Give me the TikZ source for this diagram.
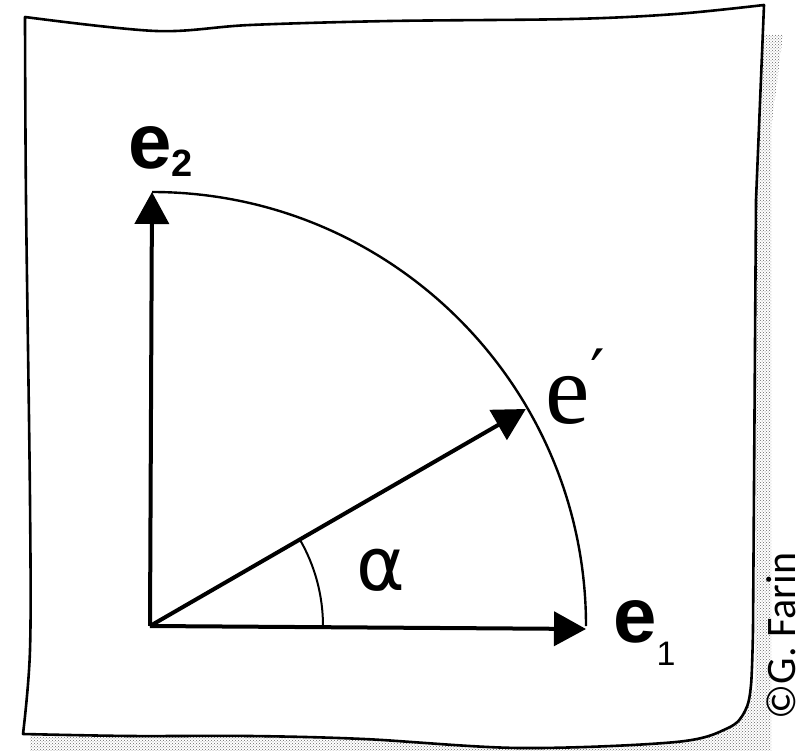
\documentclass[tikz,border=0pt]{standalone}
\usepackage{fontspec}
\setmainfont{Liberation Sans}
\newfontfamily\serifl{Liberation Serif}
\newfontfamily\dejav{DejaVu Sans}
\newfontfamily\carl{Carlito}
\usetikzlibrary{arrows.meta,patterns,calc}
\tikzset{
  framepath/.style={draw=black, line width=2.6pt, fill=white, line join=round},
  shadowfill/.style={pattern=crosshatch dots, pattern color=black!60, draw=none},
  vecarrow/.style={line width=4pt, -{Triangle[length=32pt,width=34pt]}},
  circarc/.style={line width=2.4pt},
  anglearc/.style={line width=2pt},
  labelsans/.style={inner sep=0pt, font=\bfseries\fontsize{78}{78}\selectfont},
}
\begin{document}
\begin{tikzpicture}[x=1pt,y=-1pt]
\useasboundingbox (0,0) rectangle (811,751);
% shadow
\path[shadowfill] (757,35) -- (783,35) -- (771,130) -- (771,751) -- (30,751) -- (30,734) -- (755,690) -- cycle;
% frame (paper)
\path[framepath]
  plot[smooth, tension=0.55] coordinates {(25,17) (156,31) (250,25) (390,21) (572,19) (676,14) (764,5)}
  -- (756,200) -- (753,630)
  -- plot[smooth, tension=0.55] coordinates {(753,630) (751,685) (745,711) (728,728) (676,742) (520,748) (364,739) (250,736) (130,736) (23,734)}
  -- plot[smooth, tension=0.55] coordinates {(23,734) (30,650) (30,500) (26,200) (25,17)}
  -- cycle;
% geometry
\coordinate (O) at (150,626);
\coordinate (E1) at (586,629);
\coordinate (E2) at (152,192);
\coordinate (EP) at ($(O)+(-30:434)$);
\coordinate (A0) at (323,626);
\draw[circarc] (E2) arc[start angle=-90, end angle=0, radius=434];
\draw[anglearc] (A0) arc[start angle=0, end angle=-30, radius=173];
\draw[vecarrow] (O) -- (E1);
\draw[vecarrow] (O) -- (E2);
\draw[vecarrow] (O) -- (EP);
% labels
\node[labelsans, anchor=base west] (le2) at (128,169) {e\raisebox{-0.1em}{\fontsize{38}{38}\selectfont 2}};
\node[labelsans, anchor=base west] (le1) at (613,642) {e\raisebox{-0.3em}{\fontsize{34}{34}\selectfont\mdseries 1}};
\node[inner sep=0pt, anchor=base west, font=\serifl\fontsize{100}{100}\selectfont] (lep) at (545,423) {e\hspace{0.01em}\raisebox{0.28em}{\dejav\fontsize{64}{64}\selectfont ′}};
\node[inner sep=0pt, font=\dejav\fontsize{74}{74}\selectfont] (lal) at (381,570) {α};
\node[inner sep=0pt, rotate=90, font=\carl\fontsize{42}{42}\selectfont] (cr) at (781,636) {©G. Farin};
\end{tikzpicture}
\end{document}
